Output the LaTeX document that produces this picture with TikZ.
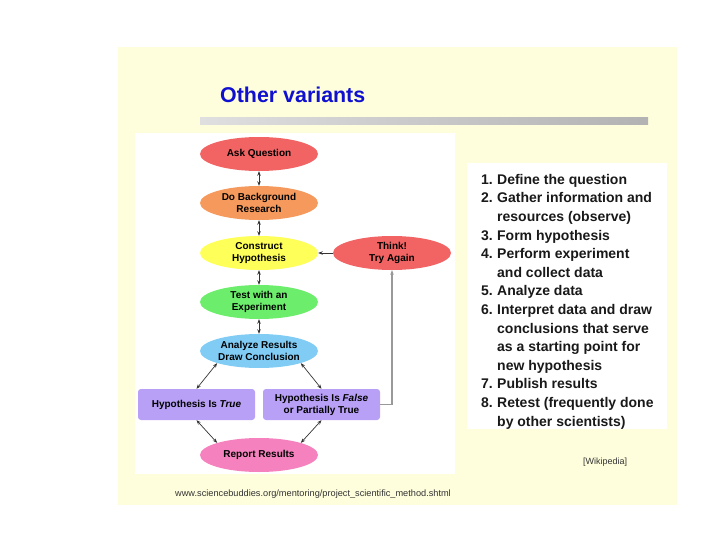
\documentclass[tikz,border=0pt]{standalone}
\usepackage{fontspec}
\setmainfont{Liberation Sans}
\usetikzlibrary{shapes.geometric,arrows.meta}
\definecolor{bgyellow}{HTML}{FEFEDC}
\definecolor{cred}{HTML}{F26464}
\definecolor{corange}{HTML}{F59A5C}
\definecolor{cyellow}{HTML}{FFFF5A}
\definecolor{cgreen}{HTML}{6CEE6C}
\definecolor{cblue}{HTML}{80CCF5}
\definecolor{clav}{HTML}{B8A0F6}
\definecolor{cpink}{HTML}{F582BE}
\definecolor{titleblue}{HTML}{1010D0}
\definecolor{arrowgray}{HTML}{333333}
\tikzset{
  oval/.style={ellipse, minimum width=118pt, minimum height=34pt, inner sep=0pt,
    font=\fontsize{10}{12}\selectfont\bfseries, align=center, text=black},
  hbox/.style={rectangle, rounded corners=3pt, fill=clav, minimum width=117pt,
    minimum height=31pt, inner sep=0pt, font=\fontsize{10}{12}\selectfont\bfseries,
    align=center, text=black},
  dbl/.style={{Stealth[length=4.5pt,width=3.5pt]}-{Stealth[length=4.5pt,width=3.5pt]}, draw=arrowgray, line width=0.7pt},
  sgl/.style={-{Stealth[length=4.5pt,width=3.5pt]}, draw=arrowgray, line width=0.7pt},
}
\begin{document}
\begin{tikzpicture}[x=1pt,y=-1pt]
\useasboundingbox (0,0) rectangle (720,540);
\fill[white] (0,0) rectangle (720,540);
% slide background
\fill[bgyellow] (118,47) rectangle (677,505);
% title
\node[anchor=west, font=\fontsize{21.4}{24}\selectfont\bfseries, text=titleblue, inner sep=0pt] (title) at (220,95) {Other variants};
\shade[left color=gray!25, right color=gray!60] (200,118) rectangle (648,125);
% panels
\fill[white] (135,133) rectangle (455,474);
\fill[white] (467,163) rectangle (667,429);
% flowchart nodes
\node[oval, fill=cred] (ask) at (259,154) {Ask Question};
\node[oval, fill=corange] (bg) at (259,203) {Do Background\\Research};
\node[oval, fill=cyellow] (hyp) at (259,253) {Construct\\Hypothesis};
\node[oval, fill=cgreen] (test) at (259,302) {Test with an\\Experiment};
\node[oval, fill=cblue] (an) at (259,351) {Analyze Results\\Draw Conclusion};
\node[oval, fill=cred] (think) at (392,253) {Think!\\Try Again};
\node[hbox] (true) at (196.5,404.5) {Hypothesis Is \textit{True}};
\node[hbox] (false) at (321.5,404.5) {Hypothesis Is \textit{False}\\or Partially True};
\node[oval, fill=cpink] (rep) at (259,455) {Report Results};
% connectors
\draw[dbl] (ask) -- (bg);
\draw[dbl] (bg) -- (hyp);
\draw[dbl] (hyp) -- (test);
\draw[dbl] (test) -- (an);
\draw[sgl] (think) -- (hyp);
\draw[dbl] (an.south west) -- (true.north);
\draw[dbl] (an.south east) -- (false.north);
\draw[dbl] (true.south) -- (rep.north west);
\draw[dbl] (false.south) -- (rep.north east);
\draw[-{Stealth[length=4.5pt,width=3.5pt]}, draw=gray!80, line width=1.2pt] (false.east) -| (think.south);
% list
\node[anchor=north west, inner sep=0pt, align=left, font=\fontsize{14}{18.6}\selectfont\bfseries, text=black!90] (list) at (481,174) {%
\makebox[16pt][l]{1.}Define the question\\
\makebox[16pt][l]{2.}Gather information and\\
\makebox[16pt][l]{}resources (observe)\\
\makebox[16pt][l]{3.}Form hypothesis\\
\makebox[16pt][l]{4.}Perform experiment\\
\makebox[16pt][l]{}and collect data\\
\makebox[16pt][l]{5.}Analyze data\\
\makebox[16pt][l]{6.}Interpret data and draw\\
\makebox[16pt][l]{}conclusions that serve\\
\makebox[16pt][l]{}as a starting point for\\
\makebox[16pt][l]{}new hypothesis\\
\makebox[16pt][l]{7.}Publish results\\
\makebox[16pt][l]{8.}Retest (frequently done\\
\makebox[16pt][l]{}by other scientists)};
\node[anchor=west, inner sep=0pt, font=\fontsize{9}{11}\selectfont, text=black!80] (wiki) at (583,462) {[Wikipedia]};
\node[anchor=west, inner sep=0pt, font=\fontsize{9.2}{11}\selectfont, text=black!80] (url) at (175,494) {www.sciencebuddies.org/mentoring/project\_scientific\_method.shtml};
\end{tikzpicture}
\end{document}
